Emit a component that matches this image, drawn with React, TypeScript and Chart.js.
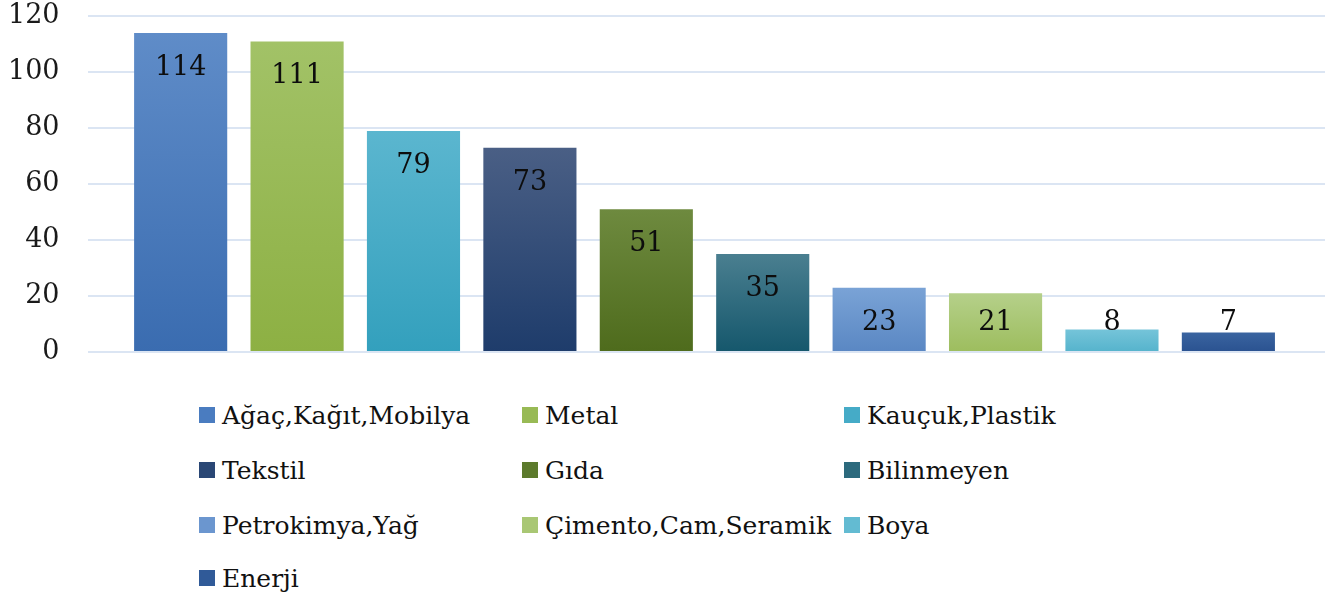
import React, { useEffect, useRef } from "react";
import { Chart, registerables } from "chart.js";

Chart.register(...registerables);

const categories = [
  "Ağaç,Kağıt,Mobilya",
  "Metal",
  "Kauçuk,Plastik",
  "Tekstil",
  "Gıda",
  "Bilinmeyen",
  "Petrokimya,Yağ",
  "Çimento,Cam,Seramik",
  "Boya",
  "Enerji",
];
const values = [114, 111, 79, 73, 51, 35, 23, 21, 8, 7];
const yTicks = [0, 20, 40, 60, 80, 100, 120];
const topColors = ["#5f8cc8", "#a2c267", "#5bb6cf", "#4a5f85", "#6e8a3f", "#4a7f90", "#7aa3d6", "#b5d08a", "#75c4d9", "#3a64a0"];
const bottomColors = ["#3a6cb0", "#8db043", "#33a0bd", "#1e3c6b", "#4e6b1c", "#15576c", "#5a87c3", "#9dbd5e", "#55b3cc", "#2a5290"];
const legendColors = ["#4a7cc0", "#98ba55", "#45abc7", "#2a4775", "#5c7a2c", "#2c6a7d", "#6b96cf", "#a9c774", "#63bbd2", "#305a98"];

const FONT = "'DejaVu Serif', serif";

const labelPlugin = {
  id: "valueLabels",
  afterDatasetsDraw(chart: any) {
    const ctx = chart.ctx;
    const meta = chart.getDatasetMeta(0);
    const base = chart.scales.y.getPixelForValue(0);
    ctx.save();
    ctx.font = `27px ${FONT}`;
    ctx.fillStyle = "#0d0d0d";
    ctx.textAlign = "center";
    ctx.textBaseline = "middle";
    meta.data.forEach((bar: any, i: number) => {
      const y = Math.min(bar.y + 35, base - 29);
      ctx.fillText(String(values[i]), bar.x, y);
    });
    ctx.restore();
  },
};

export default function App() {
  const ref = useRef<HTMLCanvasElement>(null);
  useEffect(() => {
    if (!ref.current) return;
    const chart = new Chart(ref.current, {
      type: "bar",
      data: {
        datasets: [
          {
            data: values.map((v, i) => ({ x: i + 1, y: v })),
            barPercentage: 0.8,
            categoryPercentage: 1,
            borderWidth: 0,
            backgroundColor: (c: any) => {
              const ch = c.chart;
              const i = c.dataIndex;
              if (!ch.chartArea || i === undefined) return topColors[i ?? 0];
              const ys = ch.scales.y;
              const top = ys.getPixelForValue(values[i]);
              const bot = ys.getPixelForValue(0);
              const g = ch.ctx.createLinearGradient(0, top, 0, bot);
              g.addColorStop(0, topColors[i]);
              g.addColorStop(1, bottomColors[i]);
              return g;
            },
          },
        ],
      },
      options: {
        animation: false,
        responsive: false,
        maintainAspectRatio: false,
        layout: { padding: { left: 8, right: 2, top: 0, bottom: 18 } },
        plugins: { legend: { display: false }, tooltip: { enabled: false } },
        scales: {
          x: {
            type: "linear",
            min: 0.2,
            max: 10.83,
            offset: false,
            afterBuildTicks: (s: any) => {
              s.ticks = values.map((_, i) => ({ value: i + 1 }));
            },
            ticks: { display: false },
            grid: { display: false, drawTicks: false },
            border: { display: false },
          },
          y: {
            min: 0,
            max: 120,
            afterBuildTicks: (s: any) => {
              s.ticks = yTicks.map((v) => ({ value: v }));
            },
            border: { display: false },
            grid: { color: "#dbe5f3", lineWidth: 2, drawTicks: true, tickLength: 28, tickColor: "rgba(0,0,0,0)" },
            ticks: {
              padding: 0,
              color: "#1a1a1a",
              font: { family: FONT, size: 27 },
            },
          },
        },
      },
      plugins: [labelPlugin],
    });
    return () => chart.destroy();
  }, []);

  const rows = [[0, 1, 2], [3, 4, 5], [6, 7, 8], [9]];
  const colX = [199, 522, 844];
  const rowY = [415, 470, 525, 578];

  return (
    <div style={{ position: "fixed", left: 0, top: 0, width: 1327, height: 597, background: "#fff" }}>
      <canvas ref={ref} width={1327} height={370} style={{ display: "block", width: 1327, height: 370 }} />
      {rows.map((r, ri) =>
        r.map((idx, ci) => (
          <div
            key={idx}
            style={{
              position: "absolute",
              left: colX[ci],
              top: rowY[ri] - 16,
              height: 32,
              display: "flex",
              alignItems: "center",
              fontFamily: FONT,
              fontSize: 25,
              color: "#111",
              whiteSpace: "nowrap",
            }}
          >
            <span style={{ display: "inline-block", width: 16, height: 16, background: legendColors[idx], marginRight: 7 }} />
            <span>{categories[idx]}</span>
          </div>
        ))
      )}
    </div>
  );
}
